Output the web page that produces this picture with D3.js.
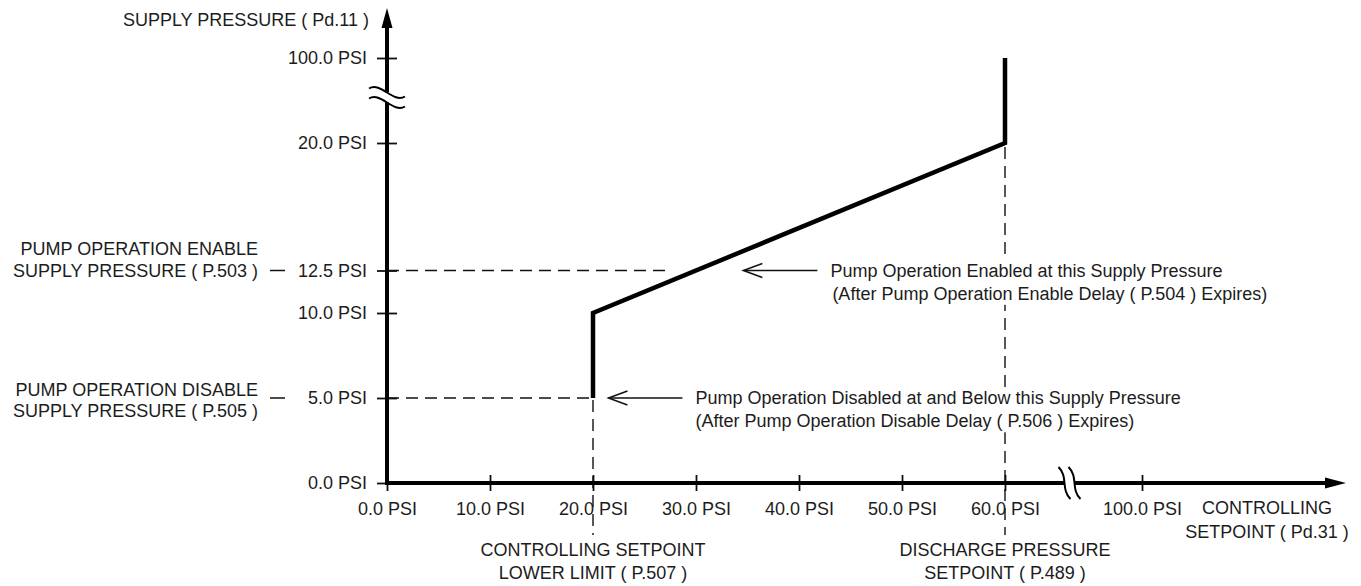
<!DOCTYPE html>
<html>
<head>
<meta charset="utf-8">
<script src="https://cdn.jsdelivr.net/npm/d3@7"></script>
<style>
  body { margin: 0; background: #fff; }
  text { font-family: "Liberation Sans", Arial, sans-serif; fill: #1c1c1c; }
</style>
</head>
<body>
<div id="chart"></div>
<script>
// values
let xTicks = [0, 10, 20, 30, 40, 50, 60, 100];
let yTicks = [0, 5, 10, 12.5, 20, 100];
let curveX = [20, 20, 60, 60];
let curveY = [5, 10, 20, 100];
let enableLevel = 12.5;
let disableLevel = 5;
let lowerLimit = 20;
let dischargeSetpoint = 60;
let yLabelLines = [["PUMP OPERATION ENABLE", "SUPPLY PRESSURE ( P.503 )"], ["PUMP OPERATION DISABLE", "SUPPLY PRESSURE ( P.505 )"]];
let noteLines = [
  ["Pump Operation Enabled at this Supply Pressure", "(After Pump Operation Enable Delay ( P.504 ) Expires)"],
  ["Pump Operation Disabled at and Below this Supply Pressure", "(After Pump Operation Disable Delay ( P.506 ) Expires)"]
];
let noteTipX = [34.6, 21.5];
let xLabelLines = [["CONTROLLING SETPOINT", "LOWER LIMIT ( P.507 )"], ["DISCHARGE PRESSURE", "SETPOINT ( P.489 )"]];

let width = 1361, height = 586;
let fs = "18px";

let svg = d3.select('#chart').append('svg')
    .attr('width', width)
    .attr('height', height);

// broken scales: linear up to 60 / 20, compressed beyond
let x = d3.scaleLinear().domain([0, 60, 100]).range([387, 1005, 1142]);
let y = d3.scaleLinear().domain([0, 20, 100]).range([483, 143, 58]);
let fmt = function (d) { return d.toFixed(1) + ' PSI'; };

// dashed guide lines
let dash = svg.append('g').attr('stroke', '#111').attr('stroke-width', 1.4).attr('stroke-dasharray', '12,7');
dash.append('line').attr('x1', x(0)).attr('x2', x(27.5)).attr('y1', y(enableLevel)).attr('y2', y(enableLevel));
dash.append('line').attr('x1', x(0)).attr('x2', x(lowerLimit)).attr('y1', y(disableLevel)).attr('y2', y(disableLevel));
dash.append('line').attr('x1', x(lowerLimit)).attr('x2', x(lowerLimit)).attr('y1', y(disableLevel) + 2).attr('y2', 535);
dash.append('line').attr('x1', x(dischargeSetpoint)).attr('x2', x(dischargeSetpoint)).attr('y1', y(20) + 4).attr('y2', 535);

// Y Axis
let yAxisCall = d3.axisLeft(y).tickValues(yTicks).tickFormat(fmt).tickSizeInner(10).tickSizeOuter(0).tickPadding(10);
let yAxis = svg.append('g').attr('transform', 'translate(' + x(0) + ',0)').call(yAxisCall);
yAxis.select('.domain').remove();
yAxis.selectAll('.tick line').attr('x1', -10).attr('x2', 10).attr('stroke', '#111').attr('stroke-width', 1.8);
yAxis.selectAll('.tick text').attr('font-size', fs).attr('font-family', null);

// X Axis
let xAxisCall = d3.axisBottom(x).tickValues(xTicks).tickFormat(fmt).tickSizeInner(8).tickSizeOuter(0).tickPadding(11);
let xAxis = svg.append('g').attr('transform', 'translate(0,' + y(0) + ')').call(xAxisCall);
xAxis.select('.domain').remove();
xAxis.selectAll('.tick line').attr('y1', -8).attr('y2', 8).attr('stroke', '#111').attr('stroke-width', 1.8);
xAxis.selectAll('.tick text').attr('font-size', fs).attr('font-family', null);

// axis lines with arrow heads
svg.append('line').attr('x1', x(0)).attr('x2', x(0)).attr('y1', y(0) + 2).attr('y2', 26)
    .attr('stroke', '#000').attr('stroke-width', 4);
svg.append('path').attr('d', 'M' + x(0) + ',8 L' + (x(0) - 5.5) + ',28 L' + (x(0) + 5.5) + ',28 Z').attr('fill', '#000');
svg.append('line').attr('x1', x(0) - 2).attr('x2', 1327).attr('y1', y(0)).attr('y2', y(0))
    .attr('stroke', '#000').attr('stroke-width', 4);
svg.append('path').attr('d', 'M1346,' + y(0) + ' L1325,' + (y(0) - 5.5) + ' L1325,' + (y(0) + 5.5) + ' Z').attr('fill', '#000');

// axis breaks
let yb = (y(20) + y(100)) / 2 - 3;
svg.append('rect').attr('x', x(0) - 4).attr('y', yb - 5).attr('width', 8).attr('height', 10).attr('fill', '#fff');
[-5, 5].forEach(function (o) {
    svg.append('path')
        .attr('d', 'M' + (x(0) - 18) + ',' + (yb + o - 4) + ' C' + (x(0) - 6) + ',' + (yb + o - 11) + ' ' + (x(0) + 6) + ',' + (yb + o + 11) + ' ' + (x(0) + 18) + ',' + (yb + o + 4))
        .attr('fill', 'none').attr('stroke', '#000').attr('stroke-width', 2);
});
let xb = (x(60) + x(100)) / 2 - 4;
svg.append('rect').attr('x', xb - 5).attr('y', y(0) - 4).attr('width', 10).attr('height', 8).attr('fill', '#fff');
[-5, 5].forEach(function (o) {
    svg.append('path')
        .attr('d', 'M' + (xb + o - 6) + ',' + (y(0) - 16) + ' C' + (xb + o + 4) + ',' + (y(0) - 6) + ' ' + (xb + o - 4) + ',' + (y(0) + 6) + ' ' + (xb + o + 6) + ',' + (y(0) + 16))
        .attr('fill', 'none').attr('stroke', '#000').attr('stroke-width', 2);
});

// operating curve
let pts = curveX.map(function (d, i) { return [x(d), y(curveY[i])]; });
svg.append('path').attr('d', d3.line()(pts))
    .attr('fill', 'none').attr('stroke', '#000').attr('stroke-width', 4.5).attr('stroke-linejoin', 'miter');

// Y Axis Text
svg.append('text').attr('x', 369).attr('y', 20).attr('dy', '0.35em')
    .attr('text-anchor', 'end').attr('font-size', fs).text('SUPPLY PRESSURE ( Pd.11 )');

// left level labels with short dash
[enableLevel, disableLevel].forEach(function (lv, i) {
    let off = i === 0 ? [-22, 0] : [-8, 13];
    yLabelLines[i].forEach(function (t, j) {
        svg.append('text').attr('x', 258).attr('y', y(lv) + off[j]).attr('dy', '0.35em')
            .attr('text-anchor', 'end').attr('font-size', fs).text(t);
    });
    svg.append('line').attr('x1', 270).attr('x2', 285).attr('y1', y(lv)).attr('y2', y(lv))
        .attr('stroke', '#111').attr('stroke-width', 1.5);
});

// annotation arrows and notes (white box hides the dashed guide behind text)
[enableLevel, disableLevel].forEach(function (lv, i) {
    let tx = x(noteTipX[i]), ty = y(lv);
    let a = svg.append('g').attr('stroke', '#111').attr('stroke-width', 1.5).attr('fill', 'none');
    a.append('line').attr('x1', tx).attr('x2', tx + 74).attr('y1', ty).attr('y2', ty);
    a.append('path').attr('d', 'M' + (tx + 19) + ',' + (ty - 7) + ' L' + tx + ',' + ty + ' L' + (tx + 19) + ',' + (ty + 7));
    let box = svg.append('rect').attr('fill', '#fff');
    let tg = svg.append('g');
    noteLines[i].forEach(function (t, j) {
        tg.append('text').attr('x', tx + 87 + (i === 0 && j === 1 ? 2 : 0)).attr('y', ty + j * 23).attr('dy', '0.35em')
            .attr('font-size', fs).text(t);
    });
    let bb = tg.node().getBBox();
    box.attr('x', bb.x - 2).attr('y', bb.y - 1).attr('width', bb.width + 4).attr('height', bb.height + 2);
});

// X Axis Text
[lowerLimit, dischargeSetpoint].forEach(function (v, i) {
    xLabelLines[i].forEach(function (t, j) {
        svg.append('text').attr('x', x(v)).attr('y', 550 + j * 23).attr('dy', '0.35em')
            .attr('text-anchor', 'middle').attr('font-size', fs).text(t);
    });
});
['CONTROLLING', 'SETPOINT ( Pd.31 )'].forEach(function (t, j) {
    svg.append('text').attr('x', 1267).attr('y', 508 + j * 24).attr('dy', '0.35em')
        .attr('text-anchor', 'middle').attr('font-size', fs).text(t);
});
</script>
</body>
</html>
